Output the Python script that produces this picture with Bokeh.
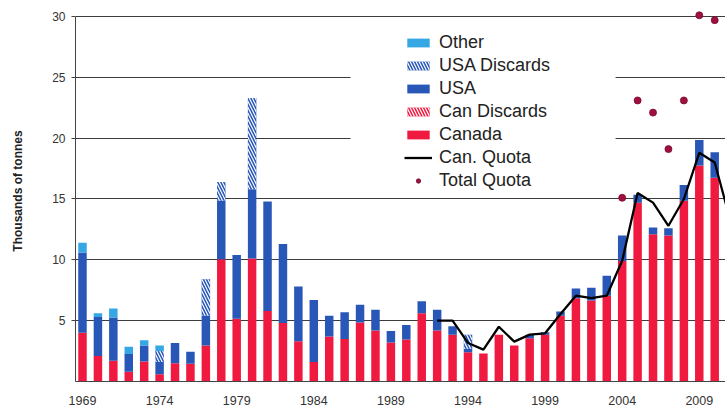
from bokeh.plotting import figure
from bokeh.models import (ColumnDataSource, FixedTicker, Legend, LegendItem,
                          BoxAnnotation, Range1d)
from bokeh.embed import file_html
from bokeh.resources import INLINE
from bokeh.transform import stack

# ---------------- data (thousands of tonnes) ----------------
years = list(range(1969, 2012))
canada = [4.0, 2.1, 1.7, 0.8, 1.65, 0.6, 1.5, 1.45, 2.95, 10.05,
          5.15, 10.1, 5.8, 4.8, 3.3, 1.6, 3.7, 3.5, 4.85, 4.2,
          3.2, 3.45, 5.6, 4.2, 3.85, 2.4, 2.3, 3.85, 2.95, 3.55,
          3.85, 5.4, 6.85, 6.65, 7.05, 9.9, 14.7, 12.1, 12.0, 14.85,
          17.75, 16.75, 11.4]
can_discards = [0, 0, 0, 0, 0, 0, 0, 0, 0, 0,
                0, 0, 0, 0, 0, 0, 0, 0, 0, 0,
                0, 0, 0, 0, 0, 0, 0, 0, 0, 0,
                0, 0, 0, 0, 0, 0, 0, 0, 0, 0,
                0, 0, 0]
usa = [6.6, 3.2, 3.55, 1.45, 1.3, 1.0, 1.67, 1.0, 2.46, 4.8,
       5.25, 5.7, 9.0, 6.5, 4.5, 5.1, 1.7, 2.2, 1.45, 1.7,
       0.95, 1.2, 1.0, 1.7, 0.7, 0.3, 0, 0, 0, 0.3,
       0.2, 0.35, 0.8, 1.05, 1.65, 2.1, 0.65, 0.55, 0.6, 1.3,
       2.1, 2.1, 1.45]
usa_discards = [0, 0, 0, 0, 0, 0.9, 0, 0, 3.0, 1.55,
                0, 7.5, 0, 0, 0, 0, 0, 0, 0, 0,
                0, 0, 0, 0, 0, 1.15, 0, 0, 0, 0,
                0, 0, 0, 0, 0, 0, 0, 0, 0, 0,
                0, 0, 0]
other = [0.8, 0.3, 0.75, 0.6, 0.45, 0.45, 0, 0, 0, 0,
         0, 0, 0, 0, 0, 0, 0, 0, 0, 0,
         0, 0, 0, 0, 0, 0, 0, 0, 0, 0,
         0, 0, 0, 0, 0, 0, 0, 0, 0, 0,
         0, 0, 0]

quota_years = list(range(1992, 2012))
can_quota = [5.0, 5.0, 3.17, 2.62, 4.5, 3.28, 3.85, 3.96, 5.55, 7.05,
             6.86, 7.05, 9.92, 15.5, 14.7, 12.8, 15.0, 18.8, 18.0, 13.3]

total_quota_years = list(range(2004, 2012))
total_quota = [15.1, 23.1, 22.1, 19.1, 23.1, 30.1, 29.7, 22.1]

tick_years = [1969, 1974, 1979, 1984, 1989, 1994, 1999, 2004, 2009]
y_ticks = [5, 10, 15, 20, 25, 30]

# ---------------- styling ----------------
RED = "#f01a40"
BLUE = "#2857b8"
LIGHT = "#35a7e3"
DOT = "#a0103e"
FONT = "Liberation Sans"

src = ColumnDataSource(dict(year=years, canada=canada, can_discards=can_discards,
                            usa=usa, usa_discards=usa_discards, other=other))

p = figure(width=725, height=411, output_backend="svg", toolbar_location=None,
           x_range=Range1d(1968.546, 2010.70), y_range=Range1d(0, 31.315),
           min_border_left=75, min_border_right=0, min_border_top=0,
           min_border_bottom=30, outline_line_color=None,
           background_fill_color="white", border_fill_color="white")

keys = ["canada", "can_discards", "usa", "usa_discards", "other"]
hatch = dict(hatch_pattern="\\", hatch_color="white", hatch_scale=6, hatch_weight=1.2)
styles = {
    "canada": dict(fill_color=RED),
    "can_discards": dict(fill_color=RED, **hatch),
    "usa": dict(fill_color=BLUE),
    "usa_discards": dict(fill_color=BLUE, **hatch),
    "other": dict(fill_color=LIGHT),
}
rends = {}
for i, k in enumerate(keys):
    bottom = stack(*keys[:i]) if i > 0 else 0
    rends[k] = p.vbar(x="year", width=0.55, bottom=bottom, top=stack(*keys[:i + 1]),
                      source=src, line_color=None, **styles[k])

quota_line = p.line(quota_years, can_quota, line_color="black", line_width=2.3)
quota_dots = p.scatter(total_quota_years, total_quota, size=7, fill_color=DOT,
                       line_color="#7a0a2c", line_width=0.8)

# grid / axes
p.xgrid.visible = False
p.ygrid.ticker = FixedTicker(ticks=y_ticks)
p.ygrid.grid_line_color = "#3c3c3c"
p.ygrid.grid_line_width = 1

p.yaxis.ticker = FixedTicker(ticks=y_ticks)
p.yaxis.bounds = (0, 30)
p.yaxis.major_tick_out = 4
p.yaxis.major_tick_in = 0
p.yaxis.minor_tick_line_color = None
p.yaxis.axis_line_color = "#444444"
p.yaxis.major_tick_line_color = "#444444"
p.yaxis.major_label_text_font = FONT
p.yaxis.major_label_text_font_size = "12px"
p.yaxis.major_label_text_color = "#333333"
p.yaxis.major_label_standoff = 6
p.yaxis.axis_label = "Thousands of tonnes"
p.yaxis.axis_label_text_font = FONT
p.yaxis.axis_label_text_font_style = "bold"
p.yaxis.axis_label_text_font_size = "12px"
p.yaxis.axis_label_text_color = "#222222"
p.yaxis.axis_label_standoff = 24

p.xaxis.ticker = FixedTicker(ticks=tick_years)
p.xaxis.major_tick_out = 0
p.xaxis.major_tick_in = 0
p.xaxis.minor_tick_line_color = None
p.xaxis.axis_line_color = "#444444"
p.xaxis.axis_line_width = 1.2
p.xaxis.major_label_text_font = FONT
p.xaxis.major_label_text_font_size = "12.5px"
p.xaxis.major_label_text_color = "#333333"
p.xaxis.major_label_standoff = 14

# white legend panel masking the gridlines behind it
mask = BoxAnnotation(left=1986.38, right=2003.57, bottom=15.5, top=29.0,
                     fill_color="white", fill_alpha=1.0, line_color=None)
p.add_layout(mask)

legend = Legend(items=[
    LegendItem(label="Other", renderers=[rends["other"]]),
    LegendItem(label="USA Discards", renderers=[rends["usa_discards"]]),
    LegendItem(label="USA", renderers=[rends["usa"]]),
    LegendItem(label="Can Discards", renderers=[rends["can_discards"]]),
    LegendItem(label="Canada", renderers=[rends["canada"]]),
    LegendItem(label="Can. Quota", renderers=[quota_line]),
    LegendItem(label="Total Quota", renderers=[quota_dots]),
], location=(329, 189), padding=3, spacing=0, margin=0,
    label_height=23, glyph_height=11, glyph_width=28, label_standoff=7,
    label_text_font=FONT, label_text_font_size="18px", label_text_color="#222222",
    border_line_color=None, background_fill_color="white", background_fill_alpha=1.0)
p.add_layout(legend)

open("out.html", "w").write(file_html(p, INLINE))
